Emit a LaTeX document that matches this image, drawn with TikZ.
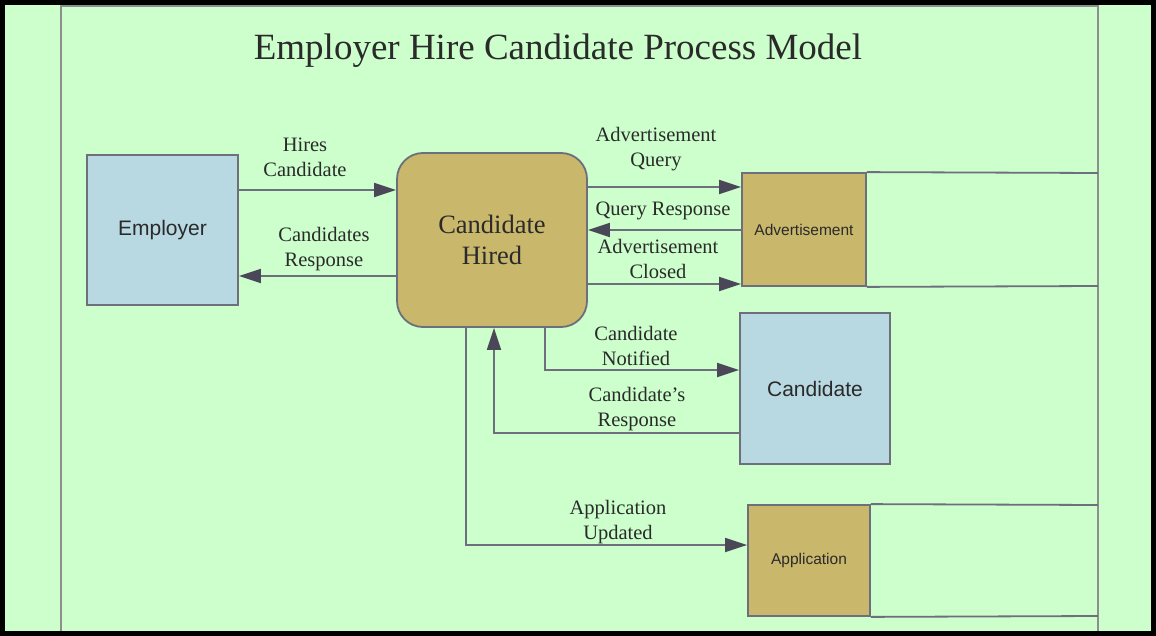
\documentclass[tikz,border=0pt]{standalone}
\usepackage{fontspec}
\setmainfont{Liberation Serif}
\setsansfont{Liberation Sans}
\usetikzlibrary{arrows.meta}
\definecolor{bggreen}{HTML}{CCFFCC}
\definecolor{storetan}{HTML}{C9B76C}
\definecolor{entblue}{HTML}{B8D8E2}
\definecolor{edgegray}{HTML}{6E6E7C}
\definecolor{tipdark}{HTML}{4A4858}
\definecolor{framegray}{HTML}{8E8E8E}
\definecolor{inkdark}{HTML}{2A2A2A}

\begin{document}
\begin{tikzpicture}[x=1pt, y=-1pt,
        entity/.style={rectangle, draw=edgegray, line width=1.8pt, fill=entblue,
            font=\sffamily\fontsize{21}{25}\selectfont, text=inkdark},
        process/.style={rectangle, rounded corners=26pt, draw=edgegray, line width=1.8pt,
            fill=storetan, align=center, font=\fontsize{26.5}{31}\selectfont, text=inkdark},
        store/.style={rectangle, draw=edgegray, line width=1.8pt, fill=storetan,
            font=\sffamily\fontsize{15.5}{18}\selectfont, text=inkdark},
        flowlabel/.style={align=center, font=\fontsize{20.5}{25}\selectfont, text=inkdark},
        flow/.style={draw=edgegray, line width=1.8pt,
            -{Triangle[length=22pt, width=14pt, fill=tipdark, color=tipdark]}},
        storeline/.style={draw=edgegray, line width=1.8pt}]
    \useasboundingbox (0,0) rectangle (1156,636);
    \fill[black] (0,0) rectangle (1156,636);
    \fill[bggreen] (5,5) rectangle (1151,631);
    \draw[framegray, line width=2.5pt] (61,6) rectangle (1098,632);
    \fill[black] (0,631) rectangle (1156,636);

    % title
    \node (title) at (558,51) {\fontsize{37}{44}\selectfont\color{inkdark}Employer Hire Candidate Process Model};

    % entities, process and stores
    \node[entity, minimum width=151pt, minimum height=150pt] (emp) at (162.5,230) {Employer};
    \node[entity, minimum width=150pt, minimum height=151pt] (cand) at (815,388.5) {Candidate};
    \node[process, minimum width=190pt, minimum height=174pt] (hired) at (492,240) {Candidate\\Hired};
    \node[store, minimum width=124pt, minimum height=113pt] (adv) at (804,229.5) {Advertisement};
    \node[store, minimum width=122pt, minimum height=111pt] (app) at (809,560.5) {Application};

    % open ends of the stores
    \coordinate (advtop) at (1098,173);
    \coordinate (advbot) at (1098,286);
    \coordinate (apptop) at (1098,505);
    \coordinate (appbot) at (1098,616);
    \draw[storeline] (adv.north east) -- (advtop);
    \draw[storeline] (adv.south east) -- (advbot);
    \draw[storeline] (app.north east) -- (apptop);
    \draw[storeline] (app.south east) -- (appbot);

    % flows
    \draw[flow] (emp.east |- 0,190) -- (hired.west |- 0,190);
    \draw[flow] (hired.west |- 0,276) -- (emp.east |- 0,276);
    \draw[flow] (hired.east |- 0,187) -- (adv.west |- 0,187);
    \draw[flow] (adv.west |- 0,230) -- (hired.east |- 0,230);
    \draw[flow] (hired.east |- 0,284) -- (adv.west |- 0,284);
    \draw[flow] (hired.south -| 545,0) |- (cand.west |- 0,370);
    \draw[flow] (cand.west |- 0,433) -| (hired.south -| 494,0);
    \draw[flow] (hired.south -| 466,0) |- (app.west |- 0,545);

    % labels
    \node[flowlabel] (lhires) at (305,157) {Hires\\Candidate};
    \node[flowlabel] (lcresp) at (324,249) {Candidates\\Response};
    \node[flowlabel] (laquery) at (656,149) {Advertisement\\Query};
    \node[flowlabel] (lqresp) at (663,211) {Query Response};
    \node[flowlabel] (laclosed) at (658,259) {Advertisement\\Closed};
    \node[flowlabel] (lnotified) at (636,346) {Candidate\\Notified};
    \node[flowlabel] (lcandresp) at (637,409) {Candidate’s\\Response};
    \node[flowlabel] (lappupd) at (618,522) {Application\\Updated};
\end{tikzpicture}
\end{document}
